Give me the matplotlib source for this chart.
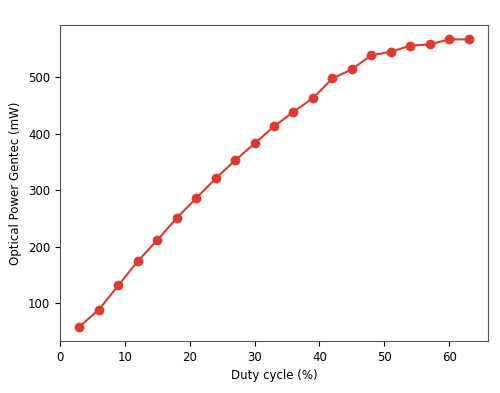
import matplotlib
matplotlib.use("Agg")
import matplotlib.pyplot as plt

duty_cycle = [3, 6, 9, 12, 15, 18, 21, 24, 27, 30, 33, 36, 39, 42, 45, 48, 51, 54, 57, 60, 63]
power_mw = [59, 89, 132, 175, 212, 251, 286, 321, 353, 383, 413, 439, 463, 498, 514, 539, 545, 556, 558, 567, 567]

fig = plt.figure(figsize=(5, 3.93), dpi=100)
ax = fig.add_axes([0.12, 0.1323, 0.856, 0.804])
ax.plot(duty_cycle, power_mw, color='#e0392e', marker='o', markersize=6, linewidth=1.5)
ax.set_xlabel('Duty cycle (%)', fontsize=8.5)
ax.set_ylabel('Optical Power Gentec (mW)', fontsize=8.5)
ax.tick_params(labelsize=8.5)
for s in ax.spines.values():
    s.set_color('#555555')
fig.savefig('out.png', dpi=100)
